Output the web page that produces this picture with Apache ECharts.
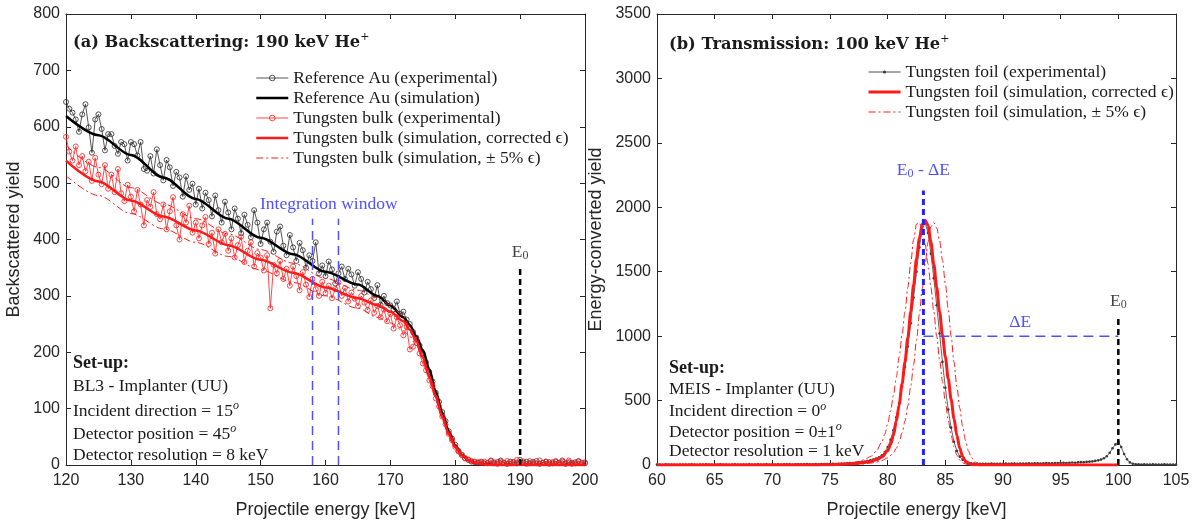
<!DOCTYPE html>
<html><head><meta charset="utf-8">
<script src="https://cdn.jsdelivr.net/npm/echarts@6/dist/echarts.min.js"></script>
<style>html,body{margin:0;padding:0;background:#fff}#c{width:1199px;height:524px}</style>
</head><body><div id="c"></div>
<script>
// ================= DATA =================
// (a) Backscattering — experimental spectra, channels every 0.5 keV from 120 keV
const leftStartE = 120, leftStepE = 0.5;
const auExpY = [
 644,632,625,613,591,622,640,599,554,613,
 622,596,558,587,587,566,552,573,569,540,
 573,569,549,573,525,522,548,517,560,532,
 505,541,528,495,520,510,476,512,488,499,
 462,490,455,483,470,441,478,452,430,467,
 448,418,455,437,411,444,426,404,452,430,
 392,418,430,396,378,414,423,389,372,408,
 386,362,394,381,350,372,362,395,340,354,
 335,361,347,322,340,352,330,348,338,318,
 342,330,306,325,312,296,319,284,300,287,
 283,276,290,268,272,258,250,236,226,212,
 198,182,165,148,128,112,94,78,60,47,
 36,25,18,12,9,6,5,4,6,3,
 4,7,3,5,8,4,2,6,5,3,
 9,4,6,3,5,7,2,4,6,5,
 3,6,4,8,2,5,4,3,7,4,
 3];
const wExpY = [
 582,556,540,565,532,548,521,538,504,545,
 515,498,532,490,515,484,525,482,468,497,
 476,450,488,462,425,470,458,484,445,436,
 462,418,450,475,425,400,445,430,460,412,
 430,402,425,440,392,412,375,418,395,410,
 380,402,368,390,405,360,380,395,352,376,
 368,345,372,278,355,340,362,330,348,318,
 352,335,310,342,320,298,330,312,300,325,
 305,318,296,312,324,300,314,290,306,295,
 282,300,288,275,292,270,282,262,276,255,
 268,242,262,248,230,245,205,210,222,198,
 180,168,150,140,118,104,86,72,55,44,
 32,24,18,12,10,7,6,5,4,6,
 3,8,5,2,6,4,7,3,5,9,
 4,6,2,7,5,3,8,4,6,2,
 5,7,3,6,4,8,2,5,6,4,
 5];
// (a) simulations
const leftSimE = [120,125,130,135,140,145,150,155,160,165,168,170,172,173,174,175,176,177,178,179,180,181,182,183,184,185,186,188,200];
const auSimY   = [619,585,550,510,472,437,403,374,343,320,300,283,262,248,228,204,170,130,93,60,35,18,9,4,2,1,0,0,0];
const wSimY    = [540,503,469,441,416,390,364,341,315,296,284,272,255,240,220,191,157,121,85,55,32,17,9,4,2,0,0,0,0];
const wSimHiY  = [567,528,492,463,437,410,382,358,331,310,297,284,264,246,222,190,155,118,82,52,30,16,8,3,1,0,0,0,0];
const wSimLoY  = [513,478,446,419,395,370,346,324,300,278,262,252,238,228,212,190,160,124,88,58,35,19,10,4,2,0,0,0,0];

// (b) Transmission — experimental, channels every 0.25 keV from 60 keV
const rightStartE = 60, rightStepE = 0.25;
const foilExpY = [
 3,4,2,5,3,4,3,2,4,3,
 4,3,5,3,2,4,3,5,4,3,
 3,4,5,3,4,2,4,5,3,4,
 4,3,5,4,3,5,4,4,6,3,
 5,4,6,4,5,5,6,4,5,6,
 6,5,7,6,5,7,6,8,7,7,
 8,9,8,10,11,12,13,15,16,18,
 20,23,27,31,36,42,50,60,75,100,
 140,195,270,370,480,610,760,920,1100,1300,
 1500,1690,1830,1880,1800,1640,1450,1240,1020,800,
 600,430,290,180,110,65,40,25,18,14,
 12,11,10,10,9,10,11,10,9,10,
 10,11,10,12,11,10,12,11,12,13,
 12,13,14,12,13,15,14,13,15,16,
 15,17,16,18,19,18,20,22,21,24,
 26,28,32,36,42,52,68,95,130,160,
 180,140,85,45,20,10,6,5,4,5,
 4,3,5,4,3,4,5,3,4,3,
 4];
// (b) simulations
const foilSimE = [60,74,75,76,77,77.5,78,78.5,79,79.5,80,80.25,80.5,80.75,81,81.25,81.5,81.75,82,82.25,82.5,82.75,83,83.25,83.5,83.75,84,84.25,84.5,84.75,85,85.25,85.5,85.75,86,86.25,86.5,86.75,87,87.25,87.5,88,100];
const foilSimY = [0,0,2,5,10,14,20,28,40,62,110,160,230,340,470,630,800,990,1190,1400,1600,1760,1870,1900,1860,1730,1560,1380,1190,1010,840,670,510,360,230,130,65,30,13,6,2,0,0];
const foilLoE = [60,75,76,77,77.5,78,78.5,79,79.5,79.75,80,80.25,80.5,80.75,81,81.25,81.5,81.75,82,82.25,82.5,82.75,83,83.25,83.5,83.75,84,84.25,84.5,84.75,85,85.25,85.5,85.75,86,86.25,86.5,86.75,87,87.5,100];
const foilLoY = [0,3,8,18,28,42,65,105,180,240,320,420,540,680,840,1010,1190,1380,1570,1750,1870,1880,1820,1710,1560,1380,1190,1000,820,650,490,350,230,140,75,38,18,8,3,0,0];
const foilHiE = [60,75,77,78,78.5,79,79.5,80,80.5,80.75,81,81.25,81.5,81.75,82,82.25,82.5,82.75,83,83.25,83.5,83.75,84,84.25,84.5,84.75,85,85.25,85.5,85.75,86,86.25,86.5,86.75,87,87.25,87.5,87.75,88,88.5,89,100];
const foilHiY = [0,0,3,8,14,22,35,55,95,130,180,250,340,460,610,780,970,1170,1370,1560,1730,1850,1880,1840,1740,1590,1410,1210,1000,800,610,440,300,190,110,60,30,14,6,1,0,0];

// annotation values
const e0Left = 190, e0LeftTop = 350;
const windowE = [158, 162], windowTop = 437, windowLabelE = 160.5;
const e0Right = 100, e0RightTop = 1150;
const peakE = 83.1, peakTop = 2130;
const deltaEY = 1000, deltaELabelE = 91.5;

// axes
const leftX = {min:120, max:200, interval:10};
const leftY = {min:0, max:800, interval:100};
const rightX = {min:60, max:105, interval:5};
const rightY = {min:0, max:3500, interval:500};

// ================= CHART =================
const serif = "'Liberation Serif','DejaVu Serif',serif";
const sans = "'Liberation Sans',Arial,sans-serif";
const axCol = '#262626';
const red = '#ff1a1a';
const blue = '#2323ff';
const lightBlue = '#5050ff';
const FS = 17.5;

const onGrid = (start, step, ys) => ys.map((y, i) => [+(start + i * step).toFixed(3), y]);
const zip = (xs, ys) => ys.map((y, i) => [xs[i], y]);

function xAx(g, r, pos, name) {
  return {gridIndex:g, type:'value', position:pos, min:r.min, max:r.max, interval:r.interval,
    name: name || '', nameLocation:'middle', nameGap:36,
    nameTextStyle:{fontFamily:sans, fontSize:18, color:axCol},
    axisLine:{show:true, onZero:false, lineStyle:{color:axCol, width:1}},
    axisTick:{show:true, inside:true, length:5, lineStyle:{color:axCol}},
    axisLabel:{show: pos==='bottom', fontFamily:sans, fontSize:16, color:axCol, margin:8, formatter:v => String(v)},
    splitLine:{show:false}};
}
function yAx(g, r, pos, name, gap) {
  return {gridIndex:g, type:'value', position:pos, min:r.min, max:r.max, interval:r.interval,
    name: name || '', nameLocation:'middle', nameGap:gap || 40,
    nameTextStyle:{fontFamily:sans, fontSize:18, color:axCol},
    axisLine:{show:true, onZero:false, lineStyle:{color:axCol, width:1}},
    axisTick:{show:true, inside:true, length:5, lineStyle:{color:axCol}},
    axisLabel:{show: pos==='left', fontFamily:sans, fontSize:16, color:axCol, margin:6, formatter:v => String(v)},
    splitLine:{show:false}};
}

const subRich = {
  e:{fontFamily:serif, fontSize:FS, lineHeight:20, color:'#111'},
  s:{fontFamily:serif, fontSize:12, lineHeight:14, verticalAlign:'bottom', color:'#111'},
  eb:{fontFamily:serif, fontSize:FS, lineHeight:20, color:blue},
  sb:{fontFamily:serif, fontSize:12, lineHeight:14, verticalAlign:'bottom', color:blue}
};

function lineS(name, ax, data, o) {
  return Object.assign({name, type:'line', xAxisIndex:ax, yAxisIndex:ax, data, animation:false}, o);
}
function dashLine(name, ax, data, color, width, dash, z) {
  return lineS(name, ax, data, {symbol:'none', lineStyle:{color, width, type:dash}, z: z || 10, silent:true});
}
function labelPt(name, ax, pt, text, dist) {
  return {name, type:'scatter', xAxisIndex:ax, yAxisIndex:ax, animation:false, silent:true,
    symbol:'circle', symbolSize:1, itemStyle:{color:'rgba(0,0,0,0)'}, z:12,
    data:[{value:pt, label:{show:true, position:'top', distance: dist || 4, formatter:text, rich:subRich}}]};
}
const hollow = (c) => ({color:'rgba(255,255,255,0)', borderColor:c, borderWidth:0.8});
const noSym = {color:'rgba(0,0,0,0)', borderWidth:0, opacity:0};
const dashDot = [7,3,2,3];

const series = [
  // (a)
  lineS('Reference Au (experimental)', 0, onGrid(leftStartE, leftStepE, auExpY),
    {symbol:'circle', symbolSize:5, showSymbol:true, itemStyle:hollow('#2b2b2b'), lineStyle:{color:'#2b2b2b', width:0.8}, z:2}),
  lineS('Reference Au (simulation)', 0, zip(leftSimE, auSimY),
    {symbol:'none', itemStyle:noSym, smooth:0.3, smoothMonotone:'x', lineStyle:{color:'#000', width:2.5}, z:3}),
  lineS('Tungsten bulk (experimental)', 0, onGrid(leftStartE, leftStepE, wExpY),
    {symbol:'circle', symbolSize:5, showSymbol:true, itemStyle:hollow(red), lineStyle:{color:red, width:0.8}, z:4}),
  lineS('Tungsten bulk (simulation, corrected ϵ)', 0, zip(leftSimE, wSimY),
    {symbol:'none', itemStyle:noSym, smooth:0.3, smoothMonotone:'x', lineStyle:{color:red, width:2.5}, z:5}),
  lineS('Tungsten bulk (simulation, ± 5% ϵ)', 0, zip(leftSimE, wSimHiY),
    {symbol:'none', itemStyle:noSym, smooth:0.3, smoothMonotone:'x', lineStyle:{color:red, width:1, type:dashDot}, z:5}),
  lineS('Tungsten bulk (simulation, ± 5% ϵ)', 0, zip(leftSimE, wSimLoY),
    {symbol:'none', itemStyle:noSym, smooth:0.3, smoothMonotone:'x', lineStyle:{color:red, width:1, type:dashDot}, z:5}),
  dashLine('_e0a', 0, [[e0Left,0],[e0Left,e0LeftTop]], '#000', 2.5, [6,4]),
  dashLine('_w1', 0, [[windowE[0],0],[windowE[0],windowTop]], lightBlue, 1.5, [9,6]),
  dashLine('_w2', 0, [[windowE[1],0],[windowE[1],windowTop]], lightBlue, 1.5, [9,6]),
  labelPt('_e0aL', 0, [e0Left, e0LeftTop], '{e|E}{s|0}', 5),
  labelPt('_wL', 0, [windowLabelE, windowTop], '{eb|Integration window}', 4),
  // (b)
  lineS('Tungsten foil (experimental)', 1, onGrid(rightStartE, rightStepE, foilExpY),
    {symbol:'circle', symbolSize:2.6, showSymbol:true, itemStyle:{color:'#3a3a3a'}, lineStyle:{color:'#222', width:0.7}, z:2}),
  lineS('Tungsten foil (simulation, corrected ϵ)', 1, zip(foilSimE, foilSimY),
    {symbol:'none', itemStyle:noSym, smooth:0.3, smoothMonotone:'x', lineStyle:{color:red, width:3}, z:4}),
  lineS('Tungsten foil (simulation, ± 5% ϵ)', 1, zip(foilLoE, foilLoY),
    {symbol:'none', itemStyle:noSym, smooth:0.3, smoothMonotone:'x', lineStyle:{color:red, width:1, type:dashDot}, z:4}),
  lineS('Tungsten foil (simulation, ± 5% ϵ)', 1, zip(foilHiE, foilHiY),
    {symbol:'none', itemStyle:noSym, smooth:0.3, smoothMonotone:'x', lineStyle:{color:red, width:1, type:dashDot}, z:4}),
  dashLine('_pk', 1, [[peakE,0],[peakE,peakTop]], blue, 3, [6,4]),
  dashLine('_de', 1, [[peakE,deltaEY],[e0Right,deltaEY]], lightBlue, 1.5, [10,6]),
  dashLine('_e0b', 1, [[e0Right,0],[e0Right,e0RightTop]], '#000', 2.5, [6,4]),
  labelPt('_pkL', 1, [peakE, peakTop], '{eb|E}{sb|0}{eb| - ΔE}', 10),
  labelPt('_deL', 1, [deltaELabelE, deltaEY], '{eb|ΔE}', 3),
  labelPt('_e0bL', 1, [e0Right, e0RightTop], '{e|E}{s|0}', 5)
];

function T(x, yc, text) {
  return {type:'text', left:x, top:yc - 11, silent:true, z:100,
    style:{text, rich:{
      n:{fontFamily:serif, fontSize:FS, lineHeight:22, fill:'#1a1a1a'},
      b:{fontFamily:serif, fontSize:18, fontWeight:'bold', lineHeight:22, fill:'#1a1a1a'},
      t:{fontFamily:"'DejaVu Serif',serif", fontSize:16.3, fontWeight:'bold', lineHeight:22, fill:'#1a1a1a'},
      sup:{fontFamily:serif, fontSize:12, fontStyle:'italic', lineHeight:13, verticalAlign:'top', fill:'#1a1a1a'},
      tsup:{fontFamily:"'DejaVu Serif',serif", fontSize:11, lineHeight:13, verticalAlign:'top', fill:'#1a1a1a'}
    }}};
}

const graphic = [
  T(73, 43, '{t|(a) Backscattering: 190 keV He}{tsup|+}'),
  T(73, 365, '{b|Set-up:}'),
  T(73, 388, '{n|BL3 - Implanter (UU)}'),
  T(73, 411, '{n|Incident direction = 15}{sup|o}'),
  T(73, 434, '{n|Detector position = 45}{sup|o}'),
  T(73, 457, '{n|Detector resolution = 8 keV}'),
  T(669, 45, '{t|(b) Transmission: 100 keV He}{tsup|+}'),
  T(669, 370, '{b|Set-up:}'),
  T(669, 391, '{n|MEIS - Implanter (UU)}'),
  T(669, 411.5, '{n|Incident direction = 0}{sup|o}'),
  T(669, 432, '{n|Detector position = 0±1}{sup|o}'),
  T(669, 453, '{n|Detector resolution = 1 keV}')
];

const legTxt = {fontFamily:serif, fontSize:FS, lineHeight:18, color:'#1a1a1a'};
const hideSym = {color:'rgba(0,0,0,0)', borderWidth:0, opacity:0};
const option = {
  backgroundColor:'#fff',
  animation:false,
  grid:[
    {left:66, top:14, width:519, height:455},
    {left:657, top:14, width:519, height:455}
  ],
  xAxis:[
    xAx(0, leftX, 'bottom', 'Projectile energy [keV]'),
    xAx(1, rightX, 'bottom', 'Projectile energy [keV]'),
    xAx(0, leftX, 'top'),
    xAx(1, rightX, 'top')
  ],
  yAxis:[
    yAx(0, leftY, 'left', 'Backscattered yield', 43),
    yAx(1, rightY, 'left', 'Energy-converted yield', 52),
    yAx(0, leftY, 'right'),
    yAx(1, rightY, 'right')
  ],
  legend:[
    {orient:'vertical', left:250, top:64, itemWidth:32, itemHeight:7, itemGap:2,
     textStyle:legTxt, selectedMode:false,
     data:[
      {name:'Reference Au (experimental)', lineStyle:{width:0.8}, itemStyle:{color:'rgba(255,255,255,0)', borderColor:'#2b2b2b', borderWidth:0.8}},
      {name:'Reference Au (simulation)', lineStyle:{width:2.5}, itemStyle:hideSym},
      {name:'Tungsten bulk (experimental)', lineStyle:{width:0.8}, itemStyle:{color:'rgba(255,255,255,0)', borderColor:red, borderWidth:0.8}},
      {name:'Tungsten bulk (simulation, corrected ϵ)', lineStyle:{width:2.5}, itemStyle:hideSym},
      {name:'Tungsten bulk (simulation, ± 5% ϵ)', lineStyle:{width:1}, itemStyle:hideSym}]},
    {orient:'vertical', left:862, top:58, itemWidth:32, itemHeight:4, itemGap:2,
     textStyle:legTxt, selectedMode:false,
     data:[
      {name:'Tungsten foil (experimental)', lineStyle:{width:0.8}},
      {name:'Tungsten foil (simulation, corrected ϵ)', lineStyle:{width:3}, itemStyle:hideSym},
      {name:'Tungsten foil (simulation, ± 5% ϵ)', lineStyle:{width:1}, itemStyle:hideSym}]}
  ],
  series,
  graphic
};
const chart = echarts.init(document.getElementById('c'), null, {renderer:'canvas'});
chart.setOption(option);
</script></body></html>
